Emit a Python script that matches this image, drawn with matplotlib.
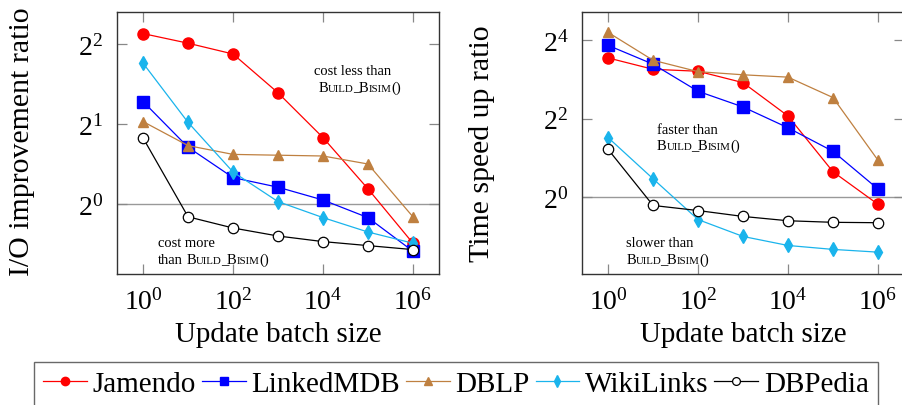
import numpy as np
import matplotlib
matplotlib.use("Agg")
import matplotlib.pyplot as plt

plt.rcParams["font.family"] = ["Liberation Serif", "DejaVu Serif"]
plt.rcParams["mathtext.fontset"] = "custom"
plt.rcParams["mathtext.rm"] = "Liberation Serif"
plt.rcParams["mathtext.it"] = "Liberation Serif:italic"

# ---- data (log2 of ratio) ----
batch = [1e0, 1e1, 1e2, 1e3, 1e4, 1e5, 1e6]
series = ["Jamendo", "LinkedMDB", "DBLP", "WikiLinks", "DBPedia"]

io_jamendo = [2.13, 2.01, 1.875, 1.39, 0.83, 0.19, -0.49]
io_linkedmdb = [1.28, 0.71, 0.33, 0.21, 0.05, -0.17, -0.59]
io_dblp = [1.03, 0.73, 0.62, 0.61, 0.60, 0.50, -0.16]
io_wikilinks = [1.76, 1.02, 0.40, 0.03, -0.17, -0.35, -0.49]
io_dbpedia = [0.825, -0.16, -0.30, -0.40, -0.47, -0.52, -0.57]

t_jamendo = [3.55, 3.26, 3.21, 2.92, 2.07, 0.65, -0.18]
t_linkedmdb = [3.87, 3.39, 2.70, 2.30, 1.77, 1.17, 0.21]
t_dblp = [4.20, 3.49, 3.20, 3.12, 3.06, 2.54, 0.945]
t_wikilinks = [1.52, 0.47, -0.57, -1.00, -1.23, -1.33, -1.40]
t_dbpedia = [1.22, -0.21, -0.34, -0.49, -0.60, -0.64, -0.65]

io_data = [io_jamendo, io_linkedmdb, io_dblp, io_wikilinks, io_dbpedia]
t_data = [t_jamendo, t_linkedmdb, t_dblp, t_wikilinks, t_dbpedia]

styles = [
    dict(color="#ff0000", marker="o", ms=8, mfc="#ff0000", mec="#ff0000"),
    dict(color="#0000ff", marker="s", ms=8, mfc="#0000ff", mec="#0000ff"),
    dict(color="#bf8040", marker="^", ms=7.5, mfc="#bf8040", mec="#bf8040"),
    dict(color="#1ab4ec", marker="d", ms=7.5, mfc="#1ab4ec", mec="#1ab4ec"),
    dict(color="black", marker="o", ms=7.5, mfc="white", mec="black", mew=0.9),
]

fig = plt.figure(figsize=(9.03, 4.06), dpi=100)
W, H = 903.0, 406.0
ax1 = fig.add_axes([117 / W, 1 - 275 / H, 322 / W, 262 / H])
ax2 = fig.add_axes([582 / W, 1 - 275 / H, 322 / W, 262 / H])

FS = 20
SC_BIG, SC_SMALL = 10.5, 7.8


def smallcaps(ax, x, y, prefix=""):
    # BUILD_BISIM() in small caps, chained piece by piece
    parts = []
    if prefix:
        parts.append((prefix, SC_BIG, 2.5))
    parts += [("B", SC_BIG, 0), ("UILD", SC_SMALL, -0.8), ("_", SC_BIG, -0.8),
              ("B", SC_BIG, 0), ("ISIM", SC_SMALL, 0), ("()", SC_BIG, 0)]
    t = ax.text(x, y, parts[0][0], fontsize=parts[0][1], transform=ax.transAxes,
                va="baseline", ha="left")
    gap = parts[0][2]
    for s, fs, g in parts[1:]:
        t = ax.annotate(s, xy=(1, y), xycoords=(t, ax.transAxes),
                        xytext=(gap, 0), textcoords="offset points",
                        fontsize=fs, va="baseline", ha="left")
        gap = g


def setup(ax, data, ylim, yticks, ylabel, label_x, label_y):
    for name, vals, st in zip(series, data, styles):
        ax.plot(batch, 2.0 ** np.array(vals), lw=0.9, label=name, **st)
    ax.set_xscale("log")
    ax.set_yscale("log", base=2)
    ax.set_xlim(10 ** -0.58, 10 ** 6.58)
    ax.set_ylim(2 ** ylim[0], 2 ** ylim[1])
    ax.axhline(1, color="#999999", lw=1.0, zorder=0)
    ax.set_xticks([1e0, 1e2, 1e4, 1e6])
    ax.set_xticklabels([r"$10^{%d}$" % k for k in (0, 2, 4, 6)])
    ax.set_yticks([2.0 ** k for k in yticks])
    ax.set_yticklabels([r"$2^{%d}$" % k for k in yticks])
    ax.minorticks_off()
    ax.tick_params(direction="in", length=7, width=0.9, color="#888888",
                   top=True, right=True, labelsize=FS, pad=10)
    for sp in ax.spines.values():
        sp.set_linewidth(1.0)
        sp.set_color("#333333")
    ax.set_xlabel("Update batch size", fontsize=FS + 1, labelpad=5)
    ax.set_ylabel(ylabel, fontsize=FS + 1.5)
    ax.yaxis.set_label_coords(label_x, label_y)


setup(ax1, io_data, (-0.875, 2.4), [0, 1, 2], "I/O improvement ratio", -0.255, 0.51)
setup(ax2, t_data, (-1.957, 4.72), [0, 2, 4], "Time speed up ratio", -0.27, 0.5)

# annotations
ax1.text(0.733, 0.763, "cost less than", fontsize=SC_BIG, ha="center", va="baseline",
         transform=ax1.transAxes)
smallcaps(ax1, 0.625, 0.700)
ax1.text(0.127, 0.105, "cost more", fontsize=SC_BIG, ha="left", va="baseline",
         transform=ax1.transAxes)
smallcaps(ax1, 0.127, 0.043, prefix="than")

ax2.text(0.233, 0.540, "faster than", fontsize=SC_BIG, ha="left", va="baseline",
         transform=ax2.transAxes)
smallcaps(ax2, 0.233, 0.476)
ax2.text(0.137, 0.105, "slower than", fontsize=SC_BIG, ha="left", va="baseline",
         transform=ax2.transAxes)
smallcaps(ax2, 0.137, 0.043)

handles, labels = ax1.get_legend_handles_labels()
leg = fig.legend(handles, labels, loc="upper center", ncol=5,
                 bbox_to_anchor=(0.505, 1 - 363 / H), fontsize=FS + 1,
                 frameon=True, fancybox=False, edgecolor="#444444",
                 markerscale=0.75, handlelength=1.5, handletextpad=0.2,
                 columnspacing=0.2, borderpad=0.3, borderaxespad=0)
leg.get_frame().set_linewidth(1.0)

fig.savefig("out.png", dpi=100)
